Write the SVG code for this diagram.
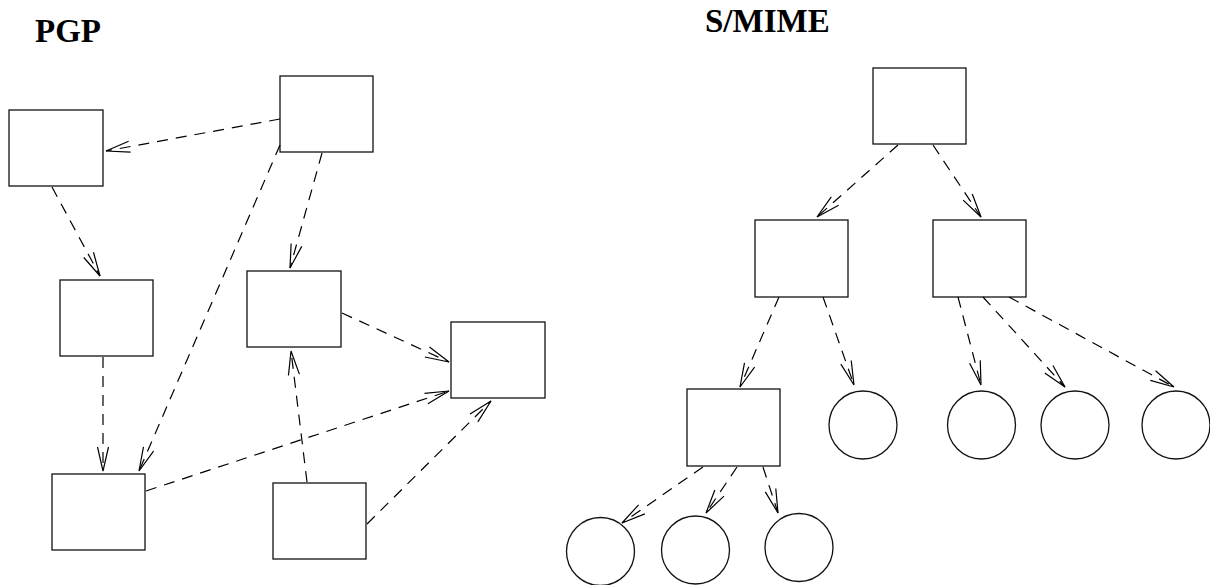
<svg xmlns="http://www.w3.org/2000/svg" width="1210" height="585" viewBox="0 0 1210 585">
  <style>
    .title { font-family: "Liberation Serif", "Times New Roman", serif; font-weight: bold; font-size: 33px; fill: #000; }
    .box { fill: #fff; stroke: #111; stroke-width: 1.3; }
    .leaf { fill: #fff; stroke: #111; stroke-width: 1.3; }
    .link { fill: none; stroke: #000; stroke-width: 1.2; stroke-dasharray: 11 8; marker-end: url(#open); }
  </style>
  <defs>
    <marker id="open" markerUnits="userSpaceOnUse" orient="auto" overflow="visible" markerWidth="1" markerHeight="1" refX="0" refY="0">
      <path d="M-24,-5.5 L0,0 L-24,5.5" fill="none" stroke="#000" stroke-width="1.2"/>
    </marker>
  </defs>
  <rect width="1210" height="585" fill="#fff"/>

  <text class="title" x="35" y="42">PGP</text>
  <text class="title" x="705" y="32">S/MIME</text>

  <!-- web of trust: boxes -->
  <g id="pgp-a"><rect class="box" x="9" y="110" width="94" height="76"/></g>
  <g id="pgp-b"><rect class="box" x="280" y="76" width="93" height="76"/></g>
  <g id="pgp-c"><rect class="box" x="60" y="280" width="93" height="76"/></g>
  <g id="pgp-d"><rect class="box" x="247" y="271" width="94" height="76"/></g>
  <g id="pgp-e"><rect class="box" x="451" y="322" width="94" height="76"/></g>
  <g id="pgp-f"><rect class="box" x="52" y="474" width="93" height="76"/></g>
  <g id="pgp-g"><rect class="box" x="273" y="483" width="93" height="76"/></g>

  <!-- certificate hierarchy: CA boxes and leaf circles -->
  <g id="smime-root"><rect class="box" x="873" y="68" width="93" height="76"/></g>
  <g id="smime-ca1"><rect class="box" x="755" y="220" width="93" height="77"/></g>
  <g id="smime-ca2"><rect class="box" x="933" y="220" width="93" height="77"/></g>
  <g id="smime-ca3"><rect class="box" x="687" y="389" width="93" height="77"/></g>
  <g id="smime-leaf1"><circle class="leaf" cx="863" cy="425" r="34"/></g>
  <g id="smime-leaf2"><circle class="leaf" cx="981.5" cy="425" r="34"/></g>
  <g id="smime-leaf3"><circle class="leaf" cx="1075" cy="425" r="34"/></g>
  <g id="smime-leaf4"><circle class="leaf" cx="1176" cy="425" r="34"/></g>
  <g id="smime-leaf5"><circle class="leaf" cx="600.5" cy="551.5" r="34"/></g>
  <g id="smime-leaf6"><circle class="leaf" cx="695.5" cy="550" r="34"/></g>
  <g id="smime-leaf7"><circle class="leaf" cx="799" cy="547.5" r="34"/></g>

  <g id="connectors">
    <line class="link" x1="280" y1="119" x2="106" y2="151"/>
    <line class="link" x1="52" y1="187" x2="100" y2="276"/>
    <line class="link" x1="322" y1="153" x2="290" y2="268"/>
    <line class="link" x1="280" y1="145" x2="139" y2="471"/>
    <line class="link" x1="103" y1="357" x2="103" y2="471"/>
    <line class="link" x1="342" y1="313" x2="449" y2="362"/>
    <line class="link" x1="146" y1="491" x2="449" y2="391"/>
    <line class="link" x1="307" y1="482" x2="291" y2="351"/>
    <line class="link" x1="367" y1="524" x2="491" y2="401"/>

    <line class="link" x1="898" y1="145" x2="817" y2="217"/>
    <line class="link" x1="933" y1="145" x2="981" y2="217"/>
    <line class="link" x1="779" y1="297" x2="740" y2="387"/>
    <line class="link" x1="823" y1="297" x2="854" y2="385"/>
    <line class="link" x1="958" y1="297" x2="981" y2="385"/>
    <line class="link" x1="983" y1="297" x2="1065" y2="387"/>
    <line class="link" x1="1009" y1="297" x2="1174" y2="387"/>
    <line class="link" x1="703" y1="467" x2="622" y2="523"/>
    <line class="link" x1="737" y1="467" x2="706" y2="513"/>
    <line class="link" x1="763" y1="467" x2="778" y2="513"/>
  </g>
</svg>
